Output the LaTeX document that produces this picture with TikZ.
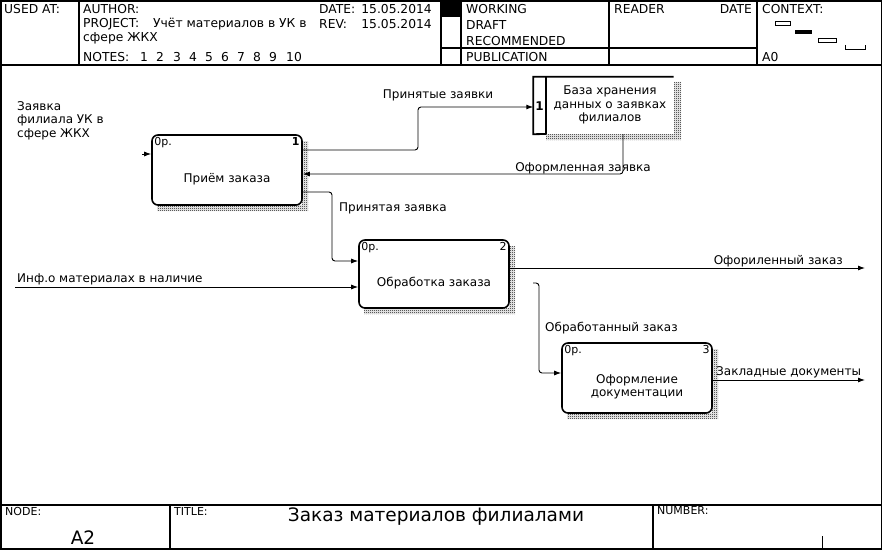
\documentclass[tikz,border=0pt]{standalone}
\usepackage{fontspec}
\setmainfont{DejaVu Sans}
\usetikzlibrary{arrows.meta,patterns}
\pgfdeclarepatternformonly{idefhatch}{\pgfpointorigin}{\pgfpoint{2pt}{2pt}}{\pgfpoint{2pt}{2pt}}{%
  \pgfpathrectangle{\pgfpointorigin}{\pgfpoint{1pt}{1pt}}%
  \pgfpathrectangle{\pgfpoint{1pt}{1pt}}{\pgfpoint{1pt}{1pt}}%
  \pgfusepath{fill}}
\tikzset{
  lbl/.style={font=\fontsize{12}{13.5}\selectfont, inner sep=0pt},
  hdr/.style={font=\fontsize{12.3}{13}\selectfont, inner sep=0pt, anchor=west},
  tiny/.style={font=\fontsize{11}{12}\selectfont, inner sep=0pt},
  big/.style={font=\fontsize{18.5}{20}\selectfont, inner sep=0pt},
  proc/.style={draw, fill=white, line width=1.6pt, rounded corners=6pt, minimum width=150pt, minimum height=70pt, inner sep=0pt},
  flow/.style={line width=0.9pt, rounded corners=3pt, -{Latex[length=7pt,width=5pt]}},
  shade/.style={pattern=idefhatch, pattern color=black, draw=none},
  frameline/.style={line width=1.4pt},
}
\begin{document}
\begin{tikzpicture}[x=1pt,y=-1pt]
\useasboundingbox (0,0) rectangle (884,551);
% frame
\draw[frameline] (1,1) rectangle (881.5,549);
\draw[frameline] (1,65) -- (881.5,65);
\draw[frameline] (1,505) -- (881.5,505);
\draw[frameline] (79,1) -- (79,65);
\draw[frameline] (441,1) -- (441,65);
\draw[frameline] (461,1) -- (461,65);
\draw[frameline] (609,1) -- (609,65);
\draw[frameline] (757,1) -- (757,65);
\draw[frameline] (441,48) -- (757,48);
\fill (441,1) rectangle (461,17);
\draw[frameline] (170,505) -- (170,549);
\draw[frameline] (653,505) -- (653,549);
\draw[line width=1pt] (822,536) -- (822,549);
% context icon
\draw[line width=0.9pt] (775,21) rectangle (790,25);
\fill (795,30) rectangle (812,34);
\draw[line width=0.9pt] (818,38) rectangle (836,42);
\draw[line width=0.9pt] (845,45) -- (845,49) -- (865,49) -- (865,45);
% header texts
\node[hdr] at (4,9) {USED AT:};
\node[hdr] at (83,9) {AUTHOR:};
\node[hdr] at (319,9) {DATE:};
\node[hdr,anchor=east] at (432,9) {15.05.2014};
\node[hdr] at (83,24) {PROJECT:};
\node[hdr] at (153,24) {Учёт материалов в УК в};
\node[hdr] at (319,24) {REV:};
\node[hdr,anchor=east] at (432,24) {15.05.2014};
\node[hdr] at (83,38) {сфере ЖКХ};
\node[hdr] at (83,57) {NOTES:};
\foreach \n/\x in {1/140,2/156,3/173,4/189,5/205,6/221,7/237,8/253,9/269,10/286} \node[hdr] at (\x,57) {\n};
\node[hdr] at (466,9) {WORKING};
\node[hdr] at (466,25) {DRAFT};
\node[hdr] at (466,41) {RECOMMENDED};
\node[hdr] at (466,57) {PUBLICATION};
\node[hdr] at (614,9) {READER};
\node[hdr,anchor=east] at (752,9) {DATE};
\node[hdr] at (762,9) {CONTEXT:};
\node[hdr] at (762,57) {A0};
% footer texts
\node[tiny,anchor=west] at (5,511) {NODE:};
\node[big] at (83,538) {A2};
\node[tiny,anchor=west] at (174,511) {TITLE:};
\node[big] at (436,517) {Заказ материалов филиалами};
\node[tiny,anchor=west] at (657,511) {NUMBER:};
% shadows
\fill[shade] (302,141) -- (308,141) -- (308,211) -- (157,211) -- (157,205) -- (302,205) -- cycle;
\fill[shade] (509,246) -- (515,246) -- (515,314) -- (364,314) -- (364,308) -- (509,308) -- cycle;
\fill[shade] (712,349) -- (718,349) -- (718,419) -- (567,419) -- (567,413) -- (712,413) -- cycle;
\fill[shade] (674,82) -- (681,82) -- (681,140) -- (546,140) -- (546,134) -- (674,134) -- cycle;
% process boxes
\node[proc] (b1) at (227,170) {};
\node[lbl] at (227,179) {Приём заказа};
\node[tiny,anchor=north west] at ([shift={(3pt,-3pt)}]b1.north west) {0р.};
\node[tiny,anchor=north east] at ([shift={(-3pt,-3pt)}]b1.north east) {\bfseries 1};
\node[proc,minimum height=68pt] (b2) at (434,274) {};
\node[lbl] at (434,283) {Обработка заказа};
\node[tiny,anchor=north west] at ([shift={(3pt,-3pt)}]b2.north west) {0р.};
\node[tiny,anchor=north east] at ([shift={(-3pt,-3pt)}]b2.north east) {2};
\node[proc] (b3) at (637,378) {};
\node[lbl,align=center] at (637,387) {Оформление\\документации};
\node[tiny,anchor=north west] at ([shift={(3pt,-3pt)}]b3.north west) {0р.};
\node[tiny,anchor=north east] at ([shift={(-3pt,-3pt)}]b3.north east) {3};
% data store
\node[minimum width=140pt, minimum height=57pt, inner sep=0pt] (st) at (603.5,105.5) {};
\draw[line width=1.8pt] (st.north east) -- (st.north west) -- (st.south west) -- (546,134);
\draw[line width=1.8pt] (546,77) -- (546,134);
\node[lbl,font=\fontsize{12}{13}\selectfont\bfseries] at (539.5,106) {1};
\node[lbl,align=center] at (610,105) {База хранения\\данных о заявках\\филиалов};
% connectors
\coordinate (in1) at (142,154);
\draw[flow] (in1) -- (in1 -| b1.west);
\draw[flow] ([yshift=20pt]b1.east) -- (418,150) -- (418,107) -- ([yshift=-1.5pt]st.west);
\draw[flow] ([xshift=19.5pt]st.south) |- ([yshift=-4pt]b1.east);
\draw[flow] ([yshift=-22pt]b1.east) -- (332,192) -- (332,261) -- ([yshift=13pt]b2.west);
\coordinate (inf) at (15,287);
\draw[flow] (inf) -- (inf -| b2.west);
\coordinate (o1) at (865,268);
\draw[flow] (b2.east |- o1) -- (o1);
\coordinate (ob) at (533,283);
\draw[flow] (ob) -- (539,283) -- (539,373) -- ([yshift=5pt]b3.west);
\coordinate (zd) at (865,380);
\draw[flow] (b3.east |- zd) -- (zd);
% labels
\node[lbl,align=left,anchor=north west] at (17,101) {Заявка\\филиала УК в\\сфере ЖКХ};
\node[lbl] at (438,95) {Принятые заявки};
\node[lbl] at (583,168) {Оформленная заявка};
\node[lbl,anchor=west] at (339,208) {Принятая заявка};
\node[lbl,anchor=west] at (17,279) {Инф.о материалах в наличие};
\node[lbl,anchor=east] at (843,261) {Офориленный заказ};
\node[lbl,anchor=west] at (545,328) {Обработанный заказ};
\node[lbl,anchor=west] at (716,372) {Закладные документы};
\end{tikzpicture}
\end{document}
